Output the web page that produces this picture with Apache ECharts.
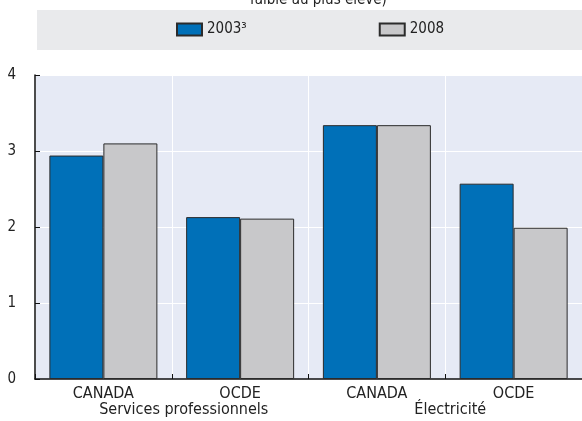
<!DOCTYPE html>
<html>
<head>
<meta charset="utf-8">
<script src="https://cdn.jsdelivr.net/npm/echarts@6/dist/echarts.min.js"></script>
<style>
  html, body { margin: 0; padding: 0; background: #fff; }
  #chart { width: 582px; height: 421px; }
</style>
</head>
<body>
<div id="chart"></div>
<script>
// categories and values
var categories = ['CANADA', 'OCDE', 'CANADA', 'OCDE'];
var groups = ['Services professionnels', 'Électricité'];
var values2003 = [2.94, 2.13, 3.34, 2.57];
var values2008 = [3.10, 2.11, 3.34, 1.99];
var seriesNames = ['2003³', '2008'];
var titleText = 'faible au plus élevé)';

var FONT = "'DejaVu Sans Condensed', 'Liberation Sans', Arial, sans-serif";

var chart = echarts.init(document.getElementById('chart'), null, { renderer: 'canvas' });

var barBorder = { borderColor: '#2b2b2b', borderWidth: 1 };

var option = {
    animation: false,
    textStyle: { fontFamily: FONT },
    title: {
        text: titleText,
        left: 250,
        top: -7,
        padding: 0,
        textStyle: { fontFamily: FONT, fontSize: 15, fontWeight: 'normal', color: '#222' }
    },
    graphic: [
        {   // legend band
            type: 'rect',
            left: 37, top: 10,
            shape: { width: 545, height: 40 },
            style: { fill: '#e9eaec' },
            z: -1
        }
    ],
    legend: {
        left: 176,
        top: 22,
        padding: 0,
        itemWidth: 25,
        itemHeight: 12,
        itemGap: 132,
        icon: 'rect',
        textStyle: { fontFamily: FONT, fontSize: 15, color: '#222' },
        data: seriesNames
    },
    grid: {
        left: 35,
        right: 0,
        top: 75,
        bottom: 42,
        show: true,
        backgroundColor: '#e6eaf5',
        borderWidth: 0
    },
    xAxis: [
        {
            type: 'category',
            data: categories,
            position: 'bottom',
            axisLine: { lineStyle: { color: '#111', width: 1.5 } },
            axisTick: { show: true, inside: true, length: 5, lineStyle: { color: '#111' } },
            splitLine: { show: true, lineStyle: { color: '#fff', width: 1 } },
            axisLabel: { fontFamily: FONT, fontSize: 16, color: '#222', margin: 7 }
        },
        {
            type: 'category',
            data: [
                { value: groups[0], textStyle: { padding: [0, 0, 0, 24] } },
                { value: groups[1], textStyle: { padding: [0, 0, 0, 10] } }
            ],
            position: 'bottom',
            axisLine: { show: false },
            axisTick: { show: false },
            splitLine: { show: false },
            axisLabel: { fontFamily: FONT, fontSize: 16, color: '#222', margin: 23 }
        }
    ],
    yAxis: {
        type: 'value',
        min: 0,
        max: 4,
        interval: 1,
        axisLine: { show: true, lineStyle: { color: '#111', width: 1.5 } },
        axisTick: { show: true, inside: true, length: 5, lineStyle: { color: '#111' } },
        splitLine: { show: true, lineStyle: { color: '#fff', width: 1 } },
        axisLabel: { fontFamily: FONT, fontSize: 15, color: '#222', margin: 19 }
    },
    series: [
        {
            name: seriesNames[0],
            type: 'bar',
            data: values2003,
            barWidth: 54,
            barGap: '0%',
            itemStyle: Object.assign({ color: '#0070b8' }, barBorder)
        },
        {
            name: seriesNames[1],
            type: 'bar',
            data: values2008,
            barWidth: 54,
            barGap: '0%',
            itemStyle: Object.assign({ color: '#c8c8ca' }, barBorder)
        }
    ]
};

chart.setOption(option);
</script>
</body>
</html>
